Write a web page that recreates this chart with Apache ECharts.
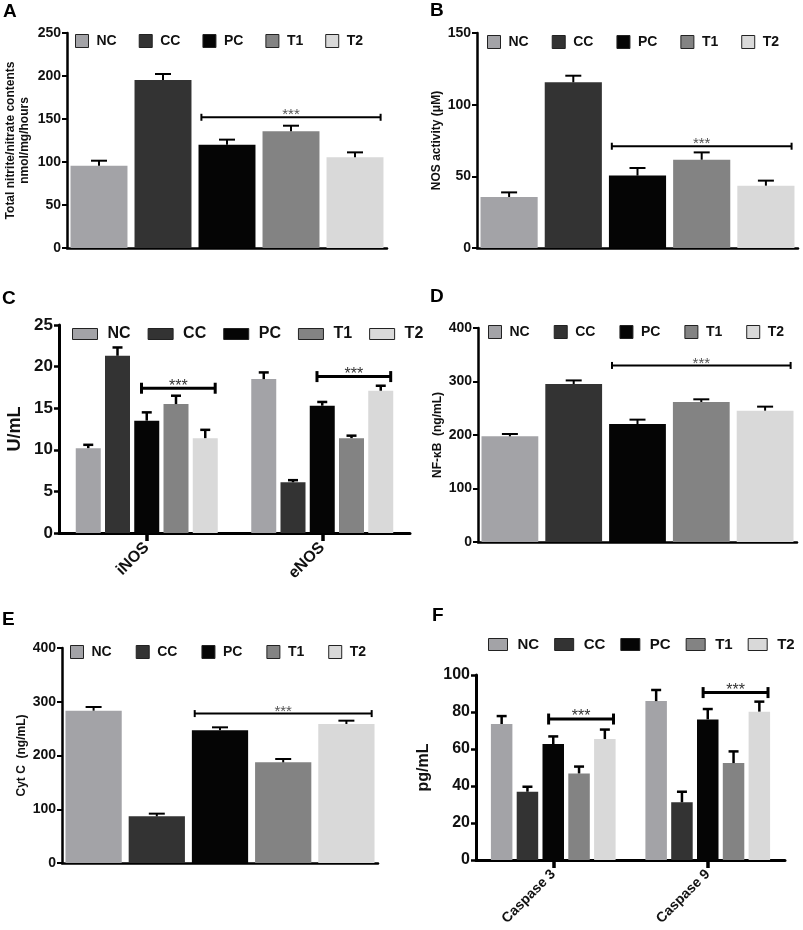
<!DOCTYPE html>
<html>
<head>
<meta charset="utf-8">
<script src="https://cdn.jsdelivr.net/npm/echarts@6/dist/echarts.min.js"></script>
<style>
html, body { margin: 0; padding: 0; background: #fff; }
#chart { width: 803px; height: 930px; }
</style>
</head>
<body>
<div id="chart"></div>
<script>
var groups = ['NC', 'CC', 'PC', 'T1', 'T2'];
var groupColors = ['#a3a3a7', '#333333', '#050505', '#838383', '#d9d9d9'];

// A - total nitrite/nitrate
var nitriteMean = [95.7, 195.3, 120.2, 135.7, 105.4];
var nitriteSem = [5.8, 7.0, 5.8, 6.5, 5.8];
var nitriteSig = 152;

// B - NOS activity
var nosMean = [35.6, 115.6, 50.5, 61.6, 43.5];
var nosSem = [3.2, 4.6, 5.3, 5.1, 3.5];
var nosSig = 71;

// C - iNOS / eNOS
var isoforms = ['iNOS', 'eNOS'];
var inosMean = [10.2, 21.3, 13.5, 15.5, 11.4];
var inosSem = [0.4, 1.0, 1.0, 1.0, 1.0];
var enosMean = [18.5, 6.1, 15.3, 11.4, 17.1];
var enosSem = [0.8, 0.25, 0.45, 0.3, 0.6];
var isoformSig = [17.4, 18.8];

// D - NF-kB
var nfkbMean = [197.5, 295.3, 220.6, 261.7, 245.5];
var nfkbSem = [4.4, 6.7, 8.1, 5.0, 7.5];
var nfkbSig = 330;

// E - Cyt C
var cytcMean = [283.4, 86.8, 246.8, 187.3, 258.6];
var cytcSem = [6.8, 5.0, 5.6, 6.2, 6.2];
var cytcSig = 278;

// F - caspases
var caspases = ['Caspase 3', 'Caspase 9'];
var casp3Mean = [73.5, 36.9, 62.7, 46.8, 65.4];
var casp3Sem = [4.3, 2.7, 4.1, 3.7, 5.1];
var casp9Mean = [85.9, 31.2, 76.0, 52.4, 80.2];
var casp9Sem = [6.0, 5.7, 5.6, 6.3, 5.4];
var caspSig = [76.2, 90.5];

var FONT = 'Liberation Sans';
var chart = echarts.init(document.getElementById('chart'));

var grids = [], xAxes = [], yAxes = [], legends = [], titles = [], series = [];

function errorSeries(gi, slotStep, capW, lw, data) {
    return {
        type: 'custom', xAxisIndex: gi, yAxisIndex: gi, z: 5, silent: true,
        encode: { x: 0, y: [1, 2] },
        renderItem: function (params, api) {
            var dx = api.value(3) * slotStep;
            var a = api.coord([api.value(0), api.value(1)]);
            var b = api.coord([api.value(0), api.value(2)]);
            var x = a[0] + dx;
            var st = { stroke: '#000', lineWidth: lw };
            return { type: 'group', children: [
                { type: 'line', shape: { x1: x, y1: a[1], x2: x, y2: b[1] }, style: st },
                { type: 'line', shape: { x1: x - capW / 2, y1: b[1], x2: x + capW / 2, y2: b[1] }, style: st }
            ] };
        },
        data: data
    };
}

function sigSeries(gi, data, o) {
    return {
        type: 'custom', xAxisIndex: gi, yAxisIndex: gi, z: 6, silent: true,
        encode: { x: 0, y: 2 },
        renderItem: function (params, api) {
            var band = api.size([1, 0])[0];
            var p0 = api.coord([api.value(0), api.value(2)]);
            var p1 = api.coord([api.value(1), api.value(2)]);
            var x0 = p0[0] + o.startFrac * band;
            var x1 = p1[0] + o.endFrac * band;
            var y = p0[1];
            var st = { stroke: '#000', lineWidth: o.lw };
            return { type: 'group', children: [
                { type: 'line', shape: { x1: x0, y1: y, x2: x1, y2: y }, style: st },
                { type: 'line', shape: { x1: x0, y1: y - o.cap, x2: x0, y2: y + o.cap }, style: st },
                { type: 'line', shape: { x1: x1, y1: y - o.cap, x2: x1, y2: y + o.cap }, style: st },
                { type: 'text', style: {
                    text: '***', x: (x0 + x1) / 2, y: y - 2,
                    align: 'center', verticalAlign: 'middle',
                    textAlign: 'center', textVerticalAlign: 'middle',
                    font: o.font, fill: o.starColor
                } }
            ] };
        },
        data: data
    };
}

function yAxisFor(gi, max, interval, name, nameGap, fs, nameFs, lw) {
    return {
        type: 'value', gridIndex: gi, min: 0, max: max, interval: interval,
        name: name, nameLocation: 'middle', nameGap: nameGap, nameRotate: 90,
        nameTextStyle: { fontFamily: FONT, fontWeight: 'bold', fontSize: nameFs, color: '#111', lineHeight: nameFs + 2 },
        axisLine: { show: true, lineStyle: { color: '#000', width: lw } },
        axisTick: { show: true, length: 5, lineStyle: { color: '#000', width: lw - 0.5 } },
        axisLabel: { fontFamily: FONT, fontWeight: 'bold', fontSize: fs, color: '#111', margin: 6 },
        splitLine: { show: false }
    };
}

function legendFor(left, top, iw, ih, gap, fs, textPad) {
    return {
        data: groups, left: left, top: top, padding: 0, icon: 'rect',
        itemWidth: iw, itemHeight: ih, itemGap: gap, selectedMode: false,
        itemStyle: { borderColor: '#222', borderWidth: 1 },
        textStyle: { fontFamily: FONT, fontWeight: 'bold', fontSize: fs, color: '#111', padding: [0, 0, 0, textPad] }
    };
}

// single-measure panels: one bar per group
function singlePanel(gi, box, mean, sem, sigY, ax, lg) {
    grids.push({ left: box[0], top: box[1], width: box[2], height: box[3] });
    xAxes.push({
        type: 'category', gridIndex: gi, data: groups,
        axisLine: { lineStyle: { color: '#000', width: 2.5 } },
        axisTick: { show: false }, axisLabel: { show: false }
    });
    yAxes.push(yAxisFor(gi, ax.max, ax.interval, ax.name, ax.nameGap, ax.fs, ax.nameFs, 2.5));
    legends.push(legendFor(lg.left, lg.top, 13, 13, lg.gap, 14, 3));
    groups.forEach(function (g, i) {
        var d = groups.map(function (_, j) { return j === i ? mean[i] : '-'; });
        series.push({
            type: 'bar', name: g, xAxisIndex: gi, yAxisIndex: gi,
            data: d, barWidth: '89%', barGap: '-100%',
            itemStyle: { color: groupColors[i] }
        });
    });
    series.push(errorSeries(gi, 0, 16, 2, mean.map(function (m, i) {
        return [i, m, m + sem[i], 0];
    })));
    series.push(sigSeries(gi, [[2, 4, sigY]], {
        startFrac: -0.4, endFrac: 0.4, lw: 2, cap: 3.5, font: '15px ' + FONT, starColor: '#555'
    }));
}

// grouped panels: two measures on x, five bars each
function groupedPanel(gi, box, cats, means, sems, sigs, ax, lg, bw, gapPct) {
    grids.push({ left: box[0], top: box[1], width: box[2], height: box[3] });
    xAxes.push({
        type: 'category', gridIndex: gi, data: cats,
        axisLine: { lineStyle: { color: '#000', width: 3 } },
        axisTick: { show: true, alignWithLabel: true, length: 8, lineStyle: { color: '#000', width: 3.5 } },
        axisLabel: { rotate: 45, fontFamily: FONT, fontWeight: 'bold', fontSize: ax.xfs, color: '#111', margin: 12 }
    });
    yAxes.push(yAxisFor(gi, ax.max, ax.interval, ax.name, ax.nameGap, ax.fs, ax.nameFs, 3));
    legends.push(legendFor(lg.left, lg.top, lg.iw, lg.ih, lg.gap, lg.fs, 5));
    var step = bw * (1 + gapPct / 100);
    var errData = [];
    groups.forEach(function (g, i) {
        series.push({
            type: 'bar', name: g, xAxisIndex: gi, yAxisIndex: gi,
            data: means.map(function (m) { return m[i]; }),
            barWidth: bw, barGap: gapPct + '%',
            itemStyle: { color: groupColors[i] }
        });
        means.forEach(function (m, c) {
            errData.push([c, m[i], m[i] + sems[c][i], i - 2]);
        });
    });
    series.push(errorSeries(gi, step, 10, 2.5, errData));
    series.push(sigSeries(gi, sigs.map(function (y, c) { return [c, c, y]; }), {
        startFrac: -0.03, endFrac: 0.39, lw: 3, cap: 5.5, font: '16px ' + FONT, starColor: '#333'
    }));
}

singlePanel(0, [67, 33, 320, 215], nitriteMean, nitriteSem, nitriteSig,
    { max: 250, interval: 50, name: 'Total nitrite/nitrate contents\nnmol/mg/hours', nameGap: 35, fs: 14, nameFs: 12 },
    { left: 75, top: 34, gap: 22 });

singlePanel(1, [477, 33, 321, 215], nosMean, nosSem, nosSig,
    { max: 150, interval: 50, name: 'NOS activity (\u03bcM)', nameGap: 30, fs: 14, nameFs: 12 },
    { left: 487, top: 35, gap: 23 });

groupedPanel(2, [59, 325, 351, 208], isoforms, [inosMean, enosMean], [inosSem, enosSem], isoformSig,
    { max: 25, interval: 5, name: 'U/mL', nameGap: 34, fs: 17, nameFs: 18, xfs: 16 },
    { left: 72, top: 326, iw: 25, ih: 11, gap: 17, fs: 16 }, 25, 17);

singlePanel(3, [478, 328, 319, 214], nfkbMean, nfkbSem, nfkbSig,
    { max: 400, interval: 100, name: 'NF-\u03baB  (ng/mL)', nameGap: 29, fs: 14, nameFs: 12 },
    { left: 488, top: 325, gap: 24 });

singlePanel(4, [62, 648, 316, 215], cytcMean, cytcSem, cytcSig,
    { max: 400, interval: 100, name: 'Cyt C  (ng/mL)', nameGap: 32, fs: 14, nameFs: 12 },
    { left: 70, top: 645, gap: 24 });

groupedPanel(5, [476, 675, 309, 185], caspases, [casp3Mean, casp9Mean], [casp3Sem, casp9Sem], caspSig,
    { max: 100, interval: 20, name: 'pg/mL', nameGap: 43, fs: 16, nameFs: 16, xfs: 14 },
    { left: 488, top: 637, iw: 19, ih: 12, gap: 15, fs: 15 }, 21.5, 20);

var letters = [['A', 3, 2], ['B', 430, 1], ['C', 2, 289], ['D', 430, 287], ['E', 2, 610], ['F', 432, 606]];
letters.forEach(function (l) {
    titles.push({ text: l[0], left: l[1], top: l[2], padding: 0,
        textStyle: { fontFamily: FONT, fontWeight: 'bold', fontSize: 19, color: '#000' } });
});

var option = {
    backgroundColor: '#fff',
    animation: false,
    title: titles,
    legend: legends,
    grid: grids,
    xAxis: xAxes,
    yAxis: yAxes,
    series: series
};

chart.setOption(option);
</script>
</body>
</html>
